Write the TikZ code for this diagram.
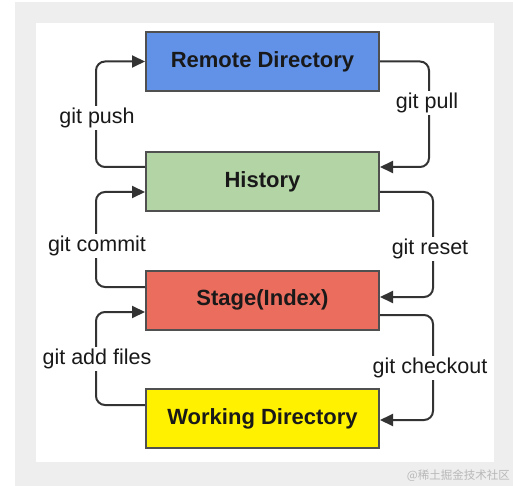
\documentclass[tikz,border=0pt]{standalone}
\usepackage{fontspec}
\setmainfont{Liberation Sans}
\newfontfamily\cjk{Noto Sans CJK SC}
\usetikzlibrary{arrows.meta}
\definecolor{bgout}{HTML}{EEEEEE}
\definecolor{bluebox}{HTML}{6192E8}
\definecolor{greenbox}{HTML}{B3D5A5}
\definecolor{redbox}{HTML}{EA6D5E}
\definecolor{yellowbox}{HTML}{FFF100}
\definecolor{boxline}{HTML}{505050}
\definecolor{conn}{HTML}{333333}
\definecolor{wmark}{HTML}{B8B8B8}
\tikzset{
  gitbox/.style={draw=boxline, line width=2pt, minimum width=233pt, minimum height=59pt,
    inner sep=0pt, font=\fontsize{22}{25}\selectfont\bfseries, text=black!90},
  flow/.style={draw=conn, line width=2pt, rounded corners=9pt,
    -{Triangle[length=13pt,width=12pt]}},
  cmd/.style={fill=white, inner sep=1.5pt, font=\fontsize{21.5}{24}\selectfont, text=black!90}
}
\begin{document}
\begin{tikzpicture}[x=1pt,y=-1pt]
\useasboundingbox (0,0) rectangle (513,486);
\fill[white] (0,0) rectangle (513,486);
\fill[bgout] (15,2) rectangle (513,486);
\fill[white] (36,23) rectangle (494,462);

\node[gitbox, fill=bluebox]   (remote) at (262.5,61.5)  {Remote Directory};
\node[gitbox, fill=greenbox]  (hist)   at (262.5,181.5) {History};
\node[gitbox, fill=redbox]    (stage)  at (262.5,300)   {Stage(Index)};
\node[gitbox, fill=yellowbox] (work)   at (262.5,418.5) {Working Directory};

% git push
\draw[flow] ([yshift=14.5pt]hist.west) -- ++(-49,0) |- (remote.west);
% git pull
\draw[flow] (remote.east) -- ++(49,0) |- ([yshift=14.5pt]hist.east);
% git commit
\draw[flow] ([yshift=13pt]stage.west) -- ++(-49,0) |- ([yshift=-10.5pt]hist.west);
% git reset
\draw[flow] ([yshift=-10.5pt]hist.east) -- ++(53,0) |- ([yshift=3pt]stage.east);
% git add files
\draw[flow] ([yshift=13.5pt]work.west) -- ++(-49,0) |- ([yshift=-12pt]stage.west);
% git checkout
\draw[flow] ([yshift=-15pt]stage.east) -- ++(53,0) |- ([yshift=-1.5pt]work.east);

\node[cmd] (lpush)     at (97,118)  {git push};
\node[cmd] (lpull)     at (427,103) {git pull};
\node[cmd] (lcommit)   at (97,246)  {git commit};
\node[cmd] (lreset)    at (430,249) {git reset};
\node[cmd] (ladd)      at (97,359)  {git add files};
\node[cmd] (lcheckout) at (430,368) {git checkout};

\node[text=wmark, font=\cjk\fontsize{11.5}{12}\selectfont, anchor=east, inner sep=0pt] (wm) at (510,476) {@稀土掘金技术社区};
\end{tikzpicture}
\end{document}
